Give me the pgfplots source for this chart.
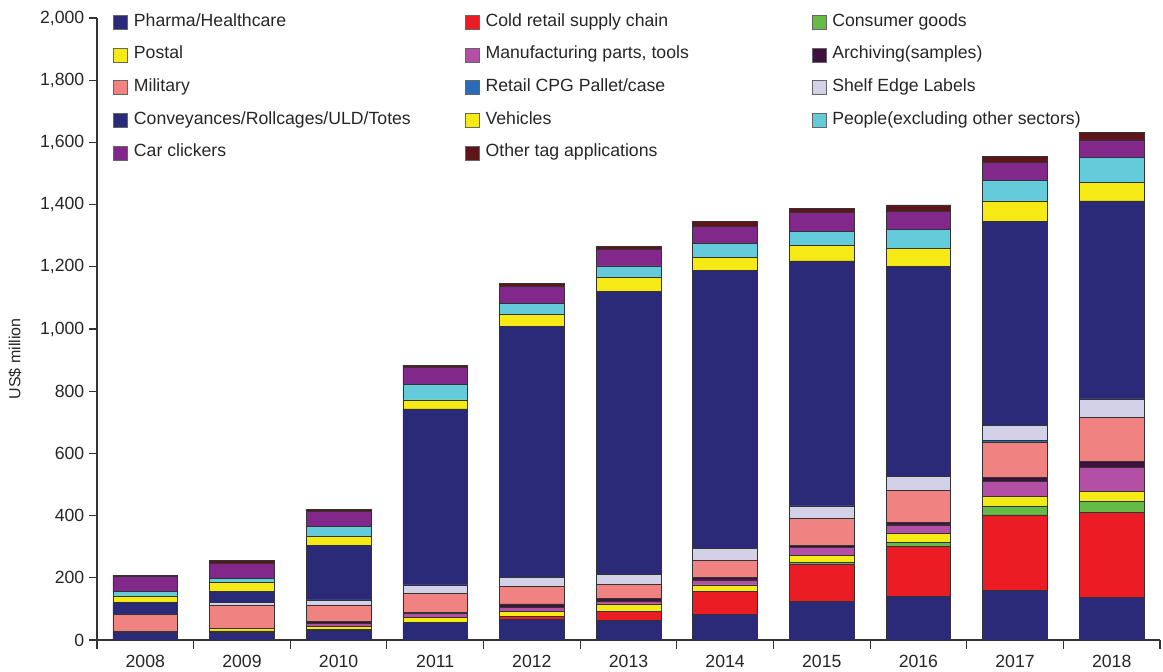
\documentclass[border=0pt]{standalone}
\usepackage{fontspec}
\setmainfont{Liberation Sans}
\usepackage{pgfplots}
\usepackage{pgfplotstable}
\pgfplotsset{compat=1.18}

\definecolor{pharma}{HTML}{2B2A78}
\definecolor{coldred}{HTML}{EC1C24}
\definecolor{consgreen}{HTML}{66BB46}
\definecolor{postal}{HTML}{F6EA16}
\definecolor{manuf}{HTML}{B34FA4}
\definecolor{archiv}{HTML}{40103F}
\definecolor{military}{HTML}{F08282}
\definecolor{retailcpg}{HTML}{2B6CB6}
\definecolor{shelf}{HTML}{D3D1E8}
\definecolor{convey}{HTML}{2B2A78}
\definecolor{vehicles}{HTML}{F6EA16}
\definecolor{people}{HTML}{64CBDA}
\definecolor{carclick}{HTML}{82288A}
\definecolor{othertag}{HTML}{5C1519}

% increments per segment, US$ million (x: 0 = 2008 ... 10 = 2018)
\pgfplotstableread{
x P C G Po M A Mi R S Cv V Pe Ca O
0 25 0 0 0 0 3 55 0 0 37 22 13 49 5
1 25 4 0 7 0 0 76 0 8 35 29 14 49 8
2 30 0 5 8 11 5 54 0 16 174 29 32 49 7
3 56 0 0 17 13 2 62 0 27 566 29 51 55 5
4 66 11 0 16 12 11 55 0 31 805 40 36 55 9
5 62 29 0 25 7 11 46 0 31 909 45 38 53 9
6 83 72 0 22 16 7 57 0 38 893 42 45 54 16
7 125 118 6 24 24 8 86 0 40 788 49 47 59 14
8 141 159 13 30 27 8 104 0 43 675 59 61 57 22
9 159 243 29 32 48 11 112 9 46 658 65 65 58 21
10 136 273 36 32 78 18 142 0 60 637 60 79 57 25
}\datatable

\newcommand{\ca}[1]{\makebox[248.25pt][l]{#1}}
\newcommand{\cb}[1]{\makebox[244.5pt][l]{#1}}

\begin{document}
\begin{tikzpicture}
\useasboundingbox (-72.75pt,-23.25pt) rectangle (799.5pt,480pt);
\begin{axis}[
    width=797.25pt, height=466.5pt, scale only axis,
    xmin=-0.5, xmax=10.5, ymin=0, ymax=2000,
    ybar stacked, bar width=0.67,
    axis x line*=bottom, axis y line*=left,
    axis line style={-, black!80, line width=0.9pt},
    tick align=outside,
    tick style={black!80, line width=0.8pt},
    xtick={0,...,10},
    xticklabels={2008,2009,2010,2011,2012,2013,2014,2015,2016,2017,2018},
    major x tick style={draw=none},
    minor xtick={-0.5,0.5,...,10.5},
    minor tick length=6.75pt,
    major tick length=6pt,
    ytick={0,200,...,2000},
    /pgf/number format/assume math mode=true,
    /pgf/number format/.cd, 1000 sep={,}, /pgfplots/.cd,
    ticklabel style={font=\fontsize{13.25pt}{16pt}\selectfont, text=black!85},
    xticklabel style={yshift=-2pt},
    ylabel={US\$ million},
    every axis y label/.style={at={(axis description cs:-0.0771,0.452)}, anchor=center, rotate=90, font=\fontsize{12pt}{14pt}\selectfont, text=black!85},
    legend columns=3,
    legend image code/.code={\draw[#1, draw=black!60, line width=0.5pt] (0pt,-5.25pt) rectangle (10.5pt,5.25pt);},
    legend style={at={(axis description cs:0,1)}, anchor=north west, xshift=12pt, yshift=3pt,
        draw=none, fill=none, inner sep=0pt, row sep=12.5pt,
        font=\fontsize{13.25pt}{16pt}\selectfont, text=black!85,
        nodes={inner sep=0pt, text height=9pt, text depth=3pt},
        /tikz/every odd column/.append style={column sep=4.5pt}},
    legend cell align=left,
    every axis plot/.append style={draw=black!80, line width=0.5pt},
]
\addplot[fill=pharma] table[x=x, y=P] {\datatable};
\addlegendentry{\ca{Pharma/Healthcare}}
\addplot[fill=coldred] table[x=x, y=C] {\datatable};
\addlegendentry{\cb{Cold retail supply chain}}
\addplot[fill=consgreen] table[x=x, y=G] {\datatable};
\addlegendentry{Consumer goods}
\addplot[fill=postal] table[x=x, y=Po] {\datatable};
\addlegendentry{\ca{Postal}}
\addplot[fill=manuf] table[x=x, y=M] {\datatable};
\addlegendentry{\cb{Manufacturing parts, tools}}
\addplot[fill=archiv] table[x=x, y=A] {\datatable};
\addlegendentry{Archiving(samples)}
\addplot[fill=military] table[x=x, y=Mi] {\datatable};
\addlegendentry{\ca{Military}}
\addplot[fill=retailcpg] table[x=x, y=R] {\datatable};
\addlegendentry{\cb{Retail CPG Pallet/case}}
\addplot[fill=shelf] table[x=x, y=S] {\datatable};
\addlegendentry{Shelf Edge Labels}
\addplot[fill=convey] table[x=x, y=Cv] {\datatable};
\addlegendentry{\ca{Conveyances/Rollcages/ULD/Totes}}
\addplot[fill=vehicles] table[x=x, y=V] {\datatable};
\addlegendentry{\cb{Vehicles}}
\addplot[fill=people] table[x=x, y=Pe] {\datatable};
\addlegendentry{People(excluding other sectors)}
\addplot[fill=carclick] table[x=x, y=Ca] {\datatable};
\addlegendentry{\ca{Car clickers}}
\addplot[fill=othertag] table[x=x, y=O] {\datatable};
\addlegendentry{\cb{Other tag applications}}
\end{axis}
\end{tikzpicture}
\end{document}
